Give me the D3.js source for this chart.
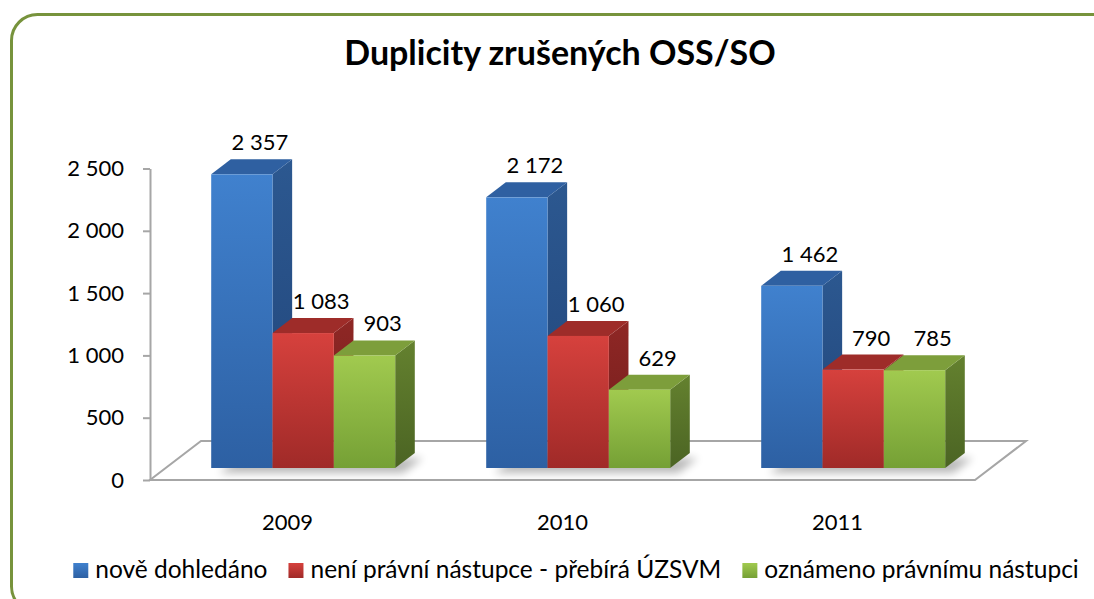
<!DOCTYPE html>
<html>
<head>
<meta charset="utf-8">
<script src="https://cdn.jsdelivr.net/npm/d3@7"></script>
<style>
  body { margin: 0; background: #fff; }
  svg { display: block; font-family: Lato, "Open Sans", sans-serif; }
</style>
</head>
<body>
<div id="chart"></div>
<script>
// data
var years = ["2009", "2010", "2011"];
var seriesNames = ["nově dohledáno", "není právní nástupce - přebírá ÚZSVM", "oznámeno právnímu nástupci"];
var noveDohledano = [2357, 2172, 1462];
var neniNastupce = [1083, 1060, 790];
var oznameno = [903, 629, 785];
var yTicks = [0, 500, 1000, 1500, 2000, 2500];
var chartTitle = "Duplicity zrušených OSS/SO";

var seriesValues = [noveDohledano, neniNastupce, oznameno];

// colours per series: front gradient, side gradient, top
var frontCols = [["#4081CE", "#2D60A3"], ["#D6413D", "#A02A28"], ["#A1CA4F", "#75A035"]];
var sideCols = [["#2C5890", "#21457A"], ["#8F2725", "#701D1B"], ["#64812F", "#4B6423"]];
var topCols = ["#2F60A1", "#9E2C29", "#7D9E3B"];

var width = 1094, height = 599;

var svg = d3.select("#chart").append("svg")
  .attr("width", width)
  .attr("height", height);

var defs = svg.append("defs");
seriesNames.forEach(function (s, i) {
  var g = defs.append("linearGradient").attr("id", "front" + i)
    .attr("x1", 0).attr("y1", 0).attr("x2", 0).attr("y2", 1);
  g.append("stop").attr("offset", "0%").attr("stop-color", frontCols[i][0]);
  g.append("stop").attr("offset", "100%").attr("stop-color", frontCols[i][1]);
  var g2 = defs.append("linearGradient").attr("id", "side" + i)
    .attr("x1", 0).attr("y1", 0).attr("x2", 0).attr("y2", 1);
  g2.append("stop").attr("offset", "0%").attr("stop-color", sideCols[i][0]);
  g2.append("stop").attr("offset", "100%").attr("stop-color", sideCols[i][1]);
});
defs.append("filter").attr("id", "blur")
  .attr("x", "-20%").attr("y", "-50%").attr("width", "140%").attr("height", "200%")
  .append("feGaussianBlur").attr("stdDeviation", 4);

// outer rounded border (runs off the right and bottom edge)
svg.append("rect")
  .attr("x", 11.5).attr("y", 14.5)
  .attr("width", 1110).attr("height", 598)
  .attr("rx", 26).attr("ry", 26)
  .attr("fill", "none")
  .attr("stroke", "#77933C")
  .attr("stroke-width", 3);

// title
svg.append("text")
  .attr("x", 560).attr("y", 65)
  .attr("text-anchor", "middle")
  .attr("font-weight", "bold")
  .attr("font-size", 34)
  .attr("fill", "#000")
  .text(chartTitle);

// 3D geometry (oblique projection)
var floorLeft = 150, floorRight = 975, floorY = 480;
var depthX = 51, depthY = 39;   // floor depth
var barZ = 12, barD = 15;       // bar front offset / bar depth (vertical px)
var k = depthX / depthY;

var y = d3.scaleLinear().domain([0, 2500]).range([floorY, 168.5]);
var x = d3.scaleBand().domain(years).range([floorLeft, floorRight])
  .paddingInner(0.331).paddingOuter(0.1655);
var xs = d3.scaleBand().domain(d3.range(seriesNames.length)).range([0, x.bandwidth()]);

var fmt = d3.formatLocale({ decimal: ",", thousands: " ", grouping: [3], currency: ["", ""] }).format(",d");

// floor
svg.append("polygon")
  .attr("points", [
    [floorLeft, floorY], [floorRight, floorY],
    [floorRight + depthX, floorY - depthY], [floorLeft + depthX, floorY - depthY]
  ].map(function (p) { return p.join(","); }).join(" "))
  .attr("fill", "#fff")
  .attr("stroke", "#A6A6A6")
  .attr("stroke-width", 2);

// y axis
var yAxis = svg.append("g")
  .attr("transform", "translate(" + floorLeft + ",0)")
  .call(d3.axisLeft(y).tickValues(yTicks).tickSize(7).tickSizeOuter(0).tickPadding(19).tickFormat(fmt));
yAxis.attr("font-family", null).attr("font-size", 22);
yAxis.selectAll("path, line").attr("stroke", "#A6A6A6").attr("stroke-width", 2);
yAxis.selectAll("text").attr("fill", "#000");

// category labels
svg.selectAll(".cat")
  .data(years)
  .enter().append("text")
  .attr("class", "cat")
  .attr("x", function (d) { return x(d) + x.bandwidth() / 2; })
  .attr("y", 530)
  .attr("text-anchor", "middle")
  .attr("font-size", 22)
  .text(function (d) { return d; });

var base = floorY - barZ;
var dx = barD * k, dy = barD;
var w = xs.bandwidth();

// shadows on the floor
svg.selectAll(".shadow")
  .data(years)
  .enter().append("polygon")
  .attr("class", "shadow")
  .attr("points", function (d) {
    var gx = x(d) + barZ * k + 8, gy = base + 5, gw = x.bandwidth();
    return [[gx, gy], [gx + gw, gy], [gx + gw + dx, gy - dy], [gx + dx, gy - dy]]
      .map(function (p) { return p.join(","); }).join(" ");
  })
  .attr("fill", "#000")
  .attr("opacity", 0.28)
  .attr("filter", "url(#blur)");

// bars
var bars = [];
years.forEach(function (yr, c) {
  seriesValues.forEach(function (vals, s) {
    bars.push({ year: yr, s: s, value: vals[c] });
  });
});

var bar = svg.selectAll(".bar")
  .data(bars)
  .enter().append("g")
  .attr("class", "bar");

function x0(d) { return x(d.year) + xs(d.s) + barZ * k; }
function yTop(d) { return y(d.value) - barZ; }
function pts(a) { return a.map(function (p) { return p.join(","); }).join(" "); }

bar.append("polygon")
  .attr("points", function (d) {
    var l = x0(d) + w, t = yTop(d);
    return pts([[l, t], [l + dx, t - dy], [l + dx, base - dy], [l, base]]);
  })
  .attr("fill", function (d) { return "url(#side" + d.s + ")"; });

bar.append("polygon")
  .attr("points", function (d) {
    var l = x0(d), t = yTop(d);
    return pts([[l, t], [l + dx, t - dy], [l + w + dx, t - dy], [l + w, t]]);
  })
  .attr("fill", function (d) { return topCols[d.s]; });

bar.append("rect")
  .attr("x", x0)
  .attr("y", yTop)
  .attr("width", w)
  .attr("height", function (d) { return base - yTop(d); })
  .attr("fill", function (d) { return "url(#front" + d.s + ")"; });

// value labels
svg.selectAll(".val")
  .data(bars)
  .enter().append("text")
  .attr("class", "val")
  .attr("x", function (d) { return x0(d) + w / 2 + 18; })
  .attr("y", function (d) { return yTop(d) - dy - 9; })
  .attr("text-anchor", "middle")
  .attr("font-size", 22)
  .text(function (d) { return fmt(d.value); });

// legend
var legend = svg.append("g");
var item = legend.selectAll(".item")
  .data(seriesNames)
  .enter().append("g")
  .attr("class", "item");
item.append("rect")
  .attr("width", 15).attr("height", 15)
  .attr("y", 563)
  .attr("fill", function (d, i) { return "url(#front" + i + ")"; });
item.append("text")
  .attr("x", 22).attr("y", 578)
  .attr("font-size", 24.5)
  .text(function (d) { return d; });

var pos = 0;
item.each(function () {
  var tw = d3.select(this).select("text").node().getComputedTextLength();
  d3.select(this).attr("transform", "translate(" + pos + ",0)");
  pos += 22 + tw + 21;
});
legend.attr("transform", "translate(" + (576 - (pos - 21) / 2) + ",0)");
</script>
</body>
</html>
